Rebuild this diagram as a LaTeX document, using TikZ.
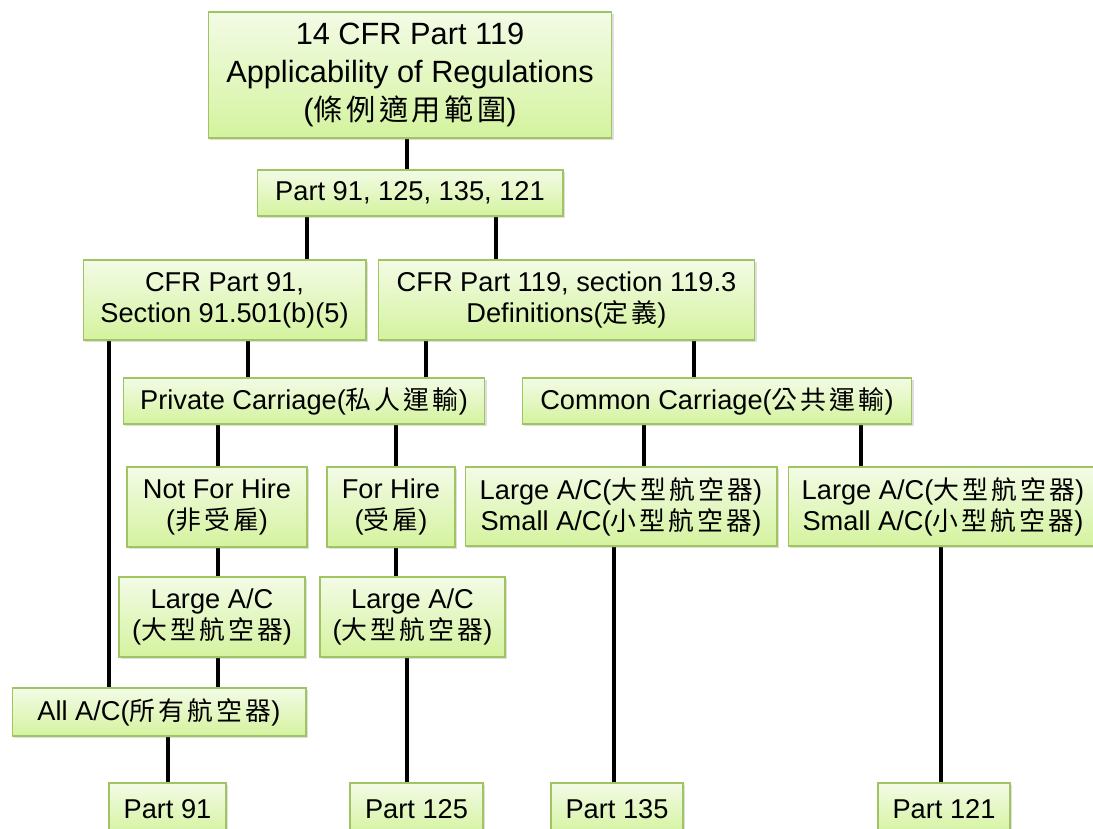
\documentclass[tikz,border=0pt]{standalone}
\usepackage{fontspec}
\setmainfont{Liberation Sans}
\newfontfamily\cjk[Scale=0.95,LetterSpace=12]{Noto Sans CJK TC}
\usetikzlibrary{shadows,backgrounds}
\definecolor{boxline}{RGB}{160,196,100}
\definecolor{boxtop}{RGB}{243,251,230}
\definecolor{boxbottom}{RGB}{212,243,158}
\newcommand{\zh}[1]{{\cjk #1}}

\begin{document}
\begin{tikzpicture}[x=0.02cm, y=-0.02cm,
            box/.style={draw=boxline, line width=0.6pt,
                        top color=boxtop, bottom color=boxbottom,
                        drop shadow={shadow xshift=1.2pt, shadow yshift=-1.2pt, opacity=0.25},
                        inner sep=0pt, align=center,
                        font=\fontsize{15.5}{17.6}\selectfont},
            link/.style={black, line width=2.2pt}
          ]
            \useasboundingbox (0,0) rectangle (1093,829);
            % boxes, placed at pixel positions
            \node[box, minimum width=8.08cm, minimum height=2.52cm,
                  font=\fontsize{17.5}{21.4}\selectfont] (top) at (410,75)
                  {14 CFR Part 119\\Applicability of Regulations\\(\zh{條例適用範圍})};
            \node[box, minimum width=6.12cm, minimum height=0.92cm] (hub) at (410,193) {Part 91, 125, 135, 121};
            \node[box, minimum width=5.66cm, minimum height=1.6cm] (cfr91) at (224.5,300) {CFR Part 91,\\Section 91.501(b)(5)};
            \node[box, minimum width=7.54cm, minimum height=1.6cm] (cfr119) at (566.5,300) {CFR Part 119, section 119.3\\Definitions(\zh{定義})};
            \node[box, minimum width=7.24cm, minimum height=0.92cm] (private) at (304,401) {Private Carriage(\zh{私人運輸})};
            \node[box, minimum width=7.8cm, minimum height=0.92cm] (common) at (717,401) {Common Carriage(\zh{公共運輸})};
            \node[box, minimum width=3.6cm, minimum height=1.6cm] (nothire) at (217,507) {Not For Hire\\(\zh{非受雇})};
            \node[box, minimum width=2.56cm, minimum height=1.6cm] (hire) at (391,507) {For Hire\\(\zh{受雇})};
            \node[box, minimum width=6.24cm, minimum height=1.58cm] (acleft) at (621,506.5) {Large A/C(\zh{大型航空器})\\Small A/C(\zh{小型航空器})};
            \node[box, minimum width=6.2cm, minimum height=1.58cm] (acright) at (943,506.5) {Large A/C(\zh{大型航空器})\\Small A/C(\zh{小型航空器})};
            \node[box, minimum width=3.72cm, minimum height=1.6cm] (largeleft) at (212,617) {Large A/C\\(\zh{大型航空器})};
            \node[box, minimum width=3.7cm, minimum height=1.6cm] (largeright) at (412.5,617) {Large A/C\\(\zh{大型航空器})};
            \node[box, minimum width=5.88cm, minimum height=0.96cm] (allac) at (159,712) {All A/C(\zh{所有航空器})};
            \node[box, minimum width=2.34cm, minimum height=1.04cm] (p91) at (167.5,809) {Part 91};
            \node[box, minimum width=2.66cm, minimum height=1.04cm] (p125) at (416.5,809) {Part 125};
            \node[box, minimum width=2.64cm, minimum height=1.04cm] (p135) at (617,809) {Part 135};
            \node[box, minimum width=2.64cm, minimum height=1.04cm] (p121) at (944,809) {Part 121};
            % connectors behind the boxes
            \begin{scope}[on background layer]
              \draw[link] (top.south -| 407,0) -- (hub.north -| 407,0);
              \draw[link] (hub.south -| 307,0) -- (cfr91.north -| 307,0);
              \draw[link] (hub.south -| 496,0) -- (cfr119.north -| 496,0);
              \draw[link] (cfr91.south -| 109,0) -- (allac.north -| 109,0);
              \draw[link] (cfr91.south -| 248,0) -- (private.north -| 248,0);
              \draw[link] (cfr119.south -| 426,0) -- (private.north -| 426,0);
              \draw[link] (cfr119.south -| 694,0) -- (common.north -| 694,0);
              \draw[link] (private.south -| 218,0) -- (nothire.north -| 218,0);
              \draw[link] (private.south -| 396,0) -- (hire.north -| 396,0);
              \draw[link] (common.south -| 644,0) -- (acleft.north -| 644,0);
              \draw[link] (common.south -| 861,0) -- (acright.north -| 861,0);
              \draw[link] (nothire.south -| 218,0) -- (largeleft.north -| 218,0);
              \draw[link] (largeleft.south -| 218,0) -- (allac.north -| 218,0);
              \draw[link] (hire.south -| 396,0) -- (largeright.north -| 396,0);
              \draw[link] (largeright.south -| 407,0) -- (p125.north -| 407,0);
              \draw[link] (allac.south -| 168,0) -- (p91.north -| 168,0);
              \draw[link] (acleft.south -| 614,0) -- (p135.north -| 614,0);
              \draw[link] (acright.south -| 941,0) -- (p121.north -| 941,0);
            \end{scope}
          \end{tikzpicture}
\end{document}
